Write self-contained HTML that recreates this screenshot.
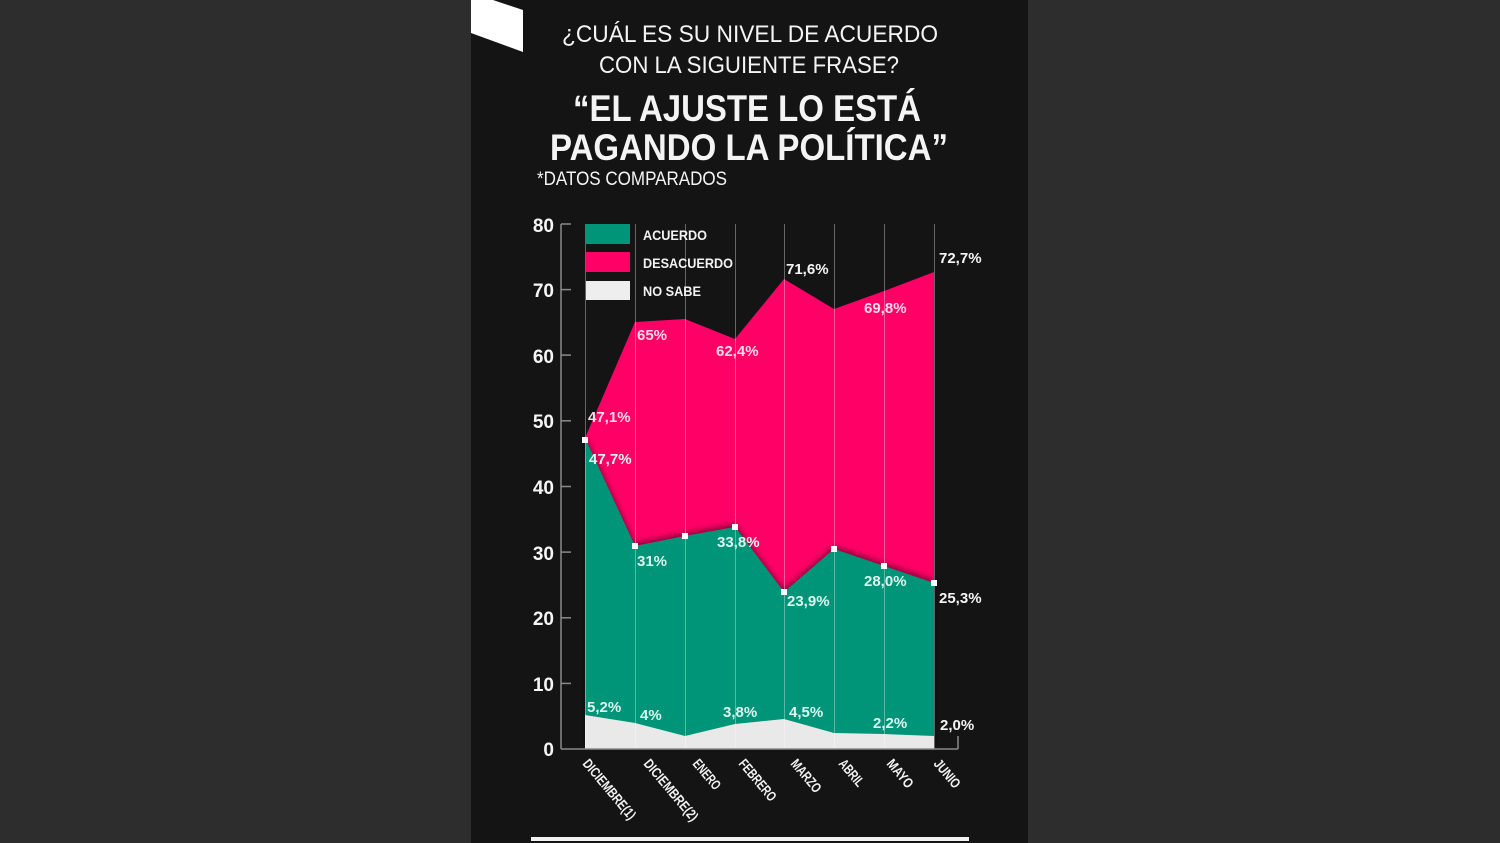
<!DOCTYPE html>
<html><head><meta charset="utf-8"><style>
html,body{margin:0;padding:0;background:#2d2d2d;}
svg{display:block;}
text{font-family:"Liberation Sans",sans-serif;}
</style></head><body>
<svg width="1500" height="843" viewBox="0 0 1500 843" xmlns="http://www.w3.org/2000/svg">
<defs>
<filter id="sh" x="-10%" y="-10%" width="120%" height="120%">
<feDropShadow dx="0" dy="-3" stdDeviation="3" flood-color="#000" flood-opacity="0.45"/>
</filter>
</defs>
<rect x="0" y="0" width="1500" height="843" fill="#2d2d2d"/>
<rect x="471" y="0" width="557" height="843" fill="#141414"/>
<polygon points="471,0 493,0 523,10 523,52 471,33" fill="#ffffff"/>

<!-- Titles -->
<g fill="#f4f4f4">
<text x="562" y="42" font-size="24" textLength="376" lengthAdjust="spacingAndGlyphs">¿CUÁL ES SU NIVEL DE ACUERDO</text>
<text x="599" y="73" font-size="24" textLength="300" lengthAdjust="spacingAndGlyphs">CON LA SIGUIENTE FRASE?</text>
<text x="573" y="121" font-size="37" font-weight="bold" textLength="348" lengthAdjust="spacingAndGlyphs">“EL AJUSTE LO ESTÁ</text>
<text x="550" y="160" font-size="37" font-weight="bold" textLength="398" lengthAdjust="spacingAndGlyphs">PAGANDO LA POLÍTICA”</text>
<text x="537" y="185" font-size="19" textLength="190" lengthAdjust="spacingAndGlyphs">*DATOS COMPARADOS</text>
</g>

<!-- Areas -->
<polygon points="585,438 635,322 685,319 735,339 784,279 834,309 884,291 934,272 934,749 585,749" fill="#ff0066"/>
<polygon points="585,438 635,546 685,536 735,527 784,592 834,549 884,566 934,583 934,749 585,749" fill="#009479" filter="url(#sh)"/>
<polygon points="585,715 635,723 685,736 735,724 784,719 834,733 884,734 934,736 934,749 585,749" fill="#e9e9e9"/>

<!-- grid lines -->
<g stroke="#ffffff" stroke-opacity="0.35" stroke-width="1">
<line x1="585.5" y1="224" x2="585.5" y2="749"/>
<line x1="635.5" y1="224" x2="635.5" y2="749"/>
<line x1="685.5" y1="224" x2="685.5" y2="749"/>
<line x1="735.5" y1="224" x2="735.5" y2="749"/>
<line x1="784.5" y1="224" x2="784.5" y2="749"/>
<line x1="834.5" y1="224" x2="834.5" y2="749"/>
<line x1="884.5" y1="224" x2="884.5" y2="749"/>
<line x1="934.5" y1="224" x2="934.5" y2="749"/>
</g>

<!-- axes -->
<g stroke="#8a8a8a" stroke-width="1.5">
<line x1="561" y1="224" x2="561" y2="749"/>
<line x1="561" y1="224" x2="571" y2="224"/>
<line x1="561" y1="289.6" x2="571" y2="289.6"/>
<line x1="561" y1="355.1" x2="571" y2="355.1"/>
<line x1="561" y1="420.8" x2="571" y2="420.8"/>
<line x1="561" y1="486.5" x2="571" y2="486.5"/>
<line x1="561" y1="552.1" x2="571" y2="552.1"/>
<line x1="561" y1="617.8" x2="571" y2="617.8"/>
<line x1="561" y1="683.4" x2="571" y2="683.4"/>
<line x1="561" y1="749" x2="958" y2="749"/>
<line x1="958" y1="736" x2="958" y2="749"/>
</g>
<g fill="#f5f5f5" font-size="19" font-weight="bold" text-anchor="end">
<text x="554" y="232">80</text>
<text x="554" y="297">70</text>
<text x="554" y="363">60</text>
<text x="554" y="428">50</text>
<text x="554" y="494">40</text>
<text x="554" y="560">30</text>
<text x="554" y="625">20</text>
<text x="554" y="691">10</text>
<text x="554" y="756">0</text>
</g>

<!-- markers -->
<g fill="#ffffff">
<rect x="582" y="437" width="6" height="6"/>
<rect x="632" y="543" width="6" height="6"/>
<rect x="682" y="533" width="6" height="6"/>
<rect x="732" y="524" width="6" height="6"/>
<rect x="781" y="589" width="6" height="6"/>
<rect x="831" y="546" width="6" height="6"/>
<rect x="881" y="563" width="6" height="6"/>
<rect x="931" y="580" width="6" height="6"/>
</g>

<!-- legend -->
<rect x="586" y="224" width="44" height="20" fill="#009479"/>
<rect x="586" y="252" width="44" height="20" fill="#ff0066"/>
<rect x="586" y="281" width="44" height="19" fill="#eeeeee"/>
<g fill="#f2f2f2" font-size="14" font-weight="bold">
<text x="643" y="240" textLength="64" lengthAdjust="spacingAndGlyphs">ACUERDO</text>
<text x="643" y="268" textLength="90" lengthAdjust="spacingAndGlyphs">DESACUERDO</text>
<text x="643" y="296" textLength="58" lengthAdjust="spacingAndGlyphs">NO SABE</text>
</g>

<!-- data labels -->
<g font-size="15" font-weight="bold">
<g fill="#ffdbe8">
<text x="588" y="422">47,1%</text>
<text x="637" y="340">65%</text>
<text x="716" y="356">62,4%</text>
<text x="864" y="313">69,8%</text>
</g>
<g fill="#f5f5f5">
<text x="786" y="274">71,6%</text>
<text x="939" y="263">72,7%</text>
<text x="939" y="603">25,3%</text>
<text x="940" y="730">2,0%</text>
</g>
<g fill="#dcf6ef">
<text x="589" y="464">47,7%</text>
<text x="637" y="566">31%</text>
<text x="717" y="547">33,8%</text>
<text x="787" y="606">23,9%</text>
<text x="864" y="586">28,0%</text>
<text x="587" y="712">5,2%</text>
<text x="640" y="720">4%</text>
<text x="723" y="717">3,8%</text>
<text x="789" y="717">4,5%</text>
<text x="873" y="728">2,2%</text>
</g>
</g>

<!-- x labels -->
<g fill="#f2f2f2" font-size="14" font-weight="bold">
<text transform="translate(582,764) rotate(50)" textLength="74" lengthAdjust="spacingAndGlyphs">DICIEMBRE(1)</text>
<text transform="translate(643,764) rotate(50)" textLength="76" lengthAdjust="spacingAndGlyphs">DICIEMBRE(2)</text>
<text transform="translate(692,764) rotate(50)" textLength="35" lengthAdjust="spacingAndGlyphs">ENERO</text>
<text transform="translate(738,764) rotate(50)" textLength="50" lengthAdjust="spacingAndGlyphs">FEBRERO</text>
<text transform="translate(790,764) rotate(50)" textLength="39" lengthAdjust="spacingAndGlyphs">MARZO</text>
<text transform="translate(838,764) rotate(50)" textLength="31" lengthAdjust="spacingAndGlyphs">ABRIL</text>
<text transform="translate(886,764) rotate(50)" textLength="33" lengthAdjust="spacingAndGlyphs">MAYO</text>
<text transform="translate(933,764) rotate(50)" textLength="33" lengthAdjust="spacingAndGlyphs">JUNIO</text>
</g>

<rect x="531" y="837" width="438" height="4" fill="#f2f2f2"/>
</svg>
</body></html>
